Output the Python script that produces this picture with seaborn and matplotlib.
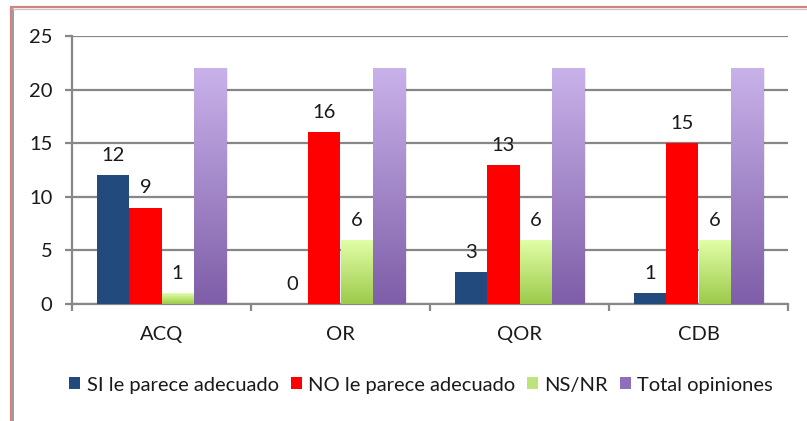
import numpy as np
import pandas as pd
import matplotlib
matplotlib.use("Agg")
import matplotlib.pyplot as plt
import seaborn as sns
from matplotlib.colors import LinearSegmentedColormap
from matplotlib.patches import Rectangle
from matplotlib.lines import Line2D

categories = ["ACQ", "OR", "QOR", "CDB"]
series_names = ["SI le parece adecuado", "NO le parece adecuado", "NS/NR", "Total opiniones"]
si_values = [12, 0, 3, 1]
no_values = [9, 16, 13, 15]
nsnr_values = [1, 6, 6, 6]
total_values = [22, 22, 22, 22]
y_ticks = [0, 5, 10, 15, 20, 25]

rows = []
for name, vals in zip(series_names, [si_values, no_values, nsnr_values, total_values]):
    for cat, v in zip(categories, vals):
        rows.append({"categoria": cat, "serie": name, "valor": v})
df = pd.DataFrame(rows)

sns.set_theme(style="white")
plt.rcParams["font.family"] = ["Lato", "DejaVu Sans"]
FS = 14.5

base_colors = ["#234a7c", "#ff0000", "#b8e070", "#a488cc"]
gradients = {
    2: ("#e2ffa8", "#9cca4a"),
    3: ("#c9b2ea", "#7e5ea8"),
}

fig = plt.figure(figsize=(8.07, 4.21), dpi=100)
fig.patch.set_facecolor("white")
ax = fig.add_axes([72 / 807, 1 - 304 / 421, (788 - 72) / 807, (304 - 36) / 421])

sns.barplot(data=df, x="categoria", y="valor", hue="serie", palette=base_colors,
            width=0.72, gap=0, saturation=1, legend=False, ax=ax, zorder=3,
            edgecolor="none", linewidth=0)

ax.set_xlim(-0.5, len(categories) - 0.5)
ax.set_ylim(0, 25)

# vertical gradient fill for the light series
for idx, (top, bottom) in gradients.items():
    cmap = LinearSegmentedColormap.from_list(f"g{idx}", [bottom, top])
    grad = np.linspace(0, 1, 256).reshape(-1, 1)
    for patch in ax.containers[idx]:
        x, y = patch.get_x(), patch.get_y()
        w, h = patch.get_width(), patch.get_height()
        if h <= 0:
            continue
        if idx == 3:
            shadow = Rectangle((x + 0.01, y), w, h - 0.1, facecolor="#000000",
                               alpha=0.08, zorder=2.5, linewidth=0)
            ax.add_patch(shadow)
        im = ax.imshow(grad, extent=[x, x + w, y, y + h], origin="lower",
                       cmap=cmap, aspect="auto", zorder=3.2, interpolation="bilinear")
        im.set_clip_path(patch)
        patch.set_facecolor("none")

ax.set_xlim(-0.5, len(categories) - 0.5)
ax.set_ylim(0, 25)

# value labels (no label on the total series)
for idx in range(3):
    ax.bar_label(ax.containers[idx], labels=[str(v) for v in
                 [si_values, no_values, nsnr_values][idx]],
                 padding=8, fontsize=FS, color="#1a1a1a", zorder=5)

ax.set_yticks(y_ticks)
ax.set_yticklabels([str(t) for t in y_ticks], fontsize=FS, color="#1a1a1a")
ax.yaxis.grid(True, color="#878787", linewidth=1.6, zorder=0)
ax.set_axisbelow(True)

ax.set_xticks(np.arange(-0.5, len(categories)))
ax.set_xticklabels([])
ax.set_xticks(np.arange(len(categories)), minor=True)
ax.set_xticklabels(categories, minor=True, fontsize=FS, color="#1a1a1a")
ax.tick_params(axis="x", which="major", length=5, width=1.6, color="#878787",
               direction="out", bottom=True)
ax.tick_params(axis="x", which="minor", length=0, pad=16)
ax.tick_params(axis="y", length=5, width=1.6, color="#878787", direction="out",
               left=True, pad=9)
ax.set_xlabel("")
ax.set_ylabel("")

for side in ["top", "right"]:
    ax.spines[side].set_visible(False)
for side in ["left", "bottom"]:
    ax.spines[side].set_color("#878787")
    ax.spines[side].set_linewidth(1.6)

handles = [Rectangle((0, 0), 1, 1, facecolor=c, edgecolor="none")
           for c in ["#234a7c", "#ff0000", "#bde47a", "#8e6fbb"]]
fig.legend(handles, series_names, loc="center", bbox_to_anchor=(421 / 807, 1 - 385 / 421),
           ncol=4, frameon=False, fontsize=FS, handlelength=0.55, handleheight=0.55,
           handletextpad=0.3, columnspacing=0.6, labelcolor="#1a1a1a")

# frame lines around the chart area
fig.add_artist(Line2D([10.5 / 807, 10.5 / 807], [0, 1 - 6.5 / 421],
                      transform=fig.transFigure, color="#d48282", linewidth=1.6))
fig.add_artist(Line2D([10.5 / 807, 1], [1 - 6.5 / 421, 1 - 6.5 / 421],
                      transform=fig.transFigure, color="#d48282", linewidth=1.6))
fig.add_artist(Line2D([13.5 / 807, 13.5 / 807], [0, 1 - 8.5 / 421],
                      transform=fig.transFigure, color="#9a9a9a", linewidth=1.4))
fig.add_artist(Line2D([13.5 / 807, 1], [1 - 8.5 / 421, 1 - 8.5 / 421],
                      transform=fig.transFigure, color="#c8c8c8", linewidth=1.0))

fig.savefig("out.png", dpi=100, facecolor="white")
